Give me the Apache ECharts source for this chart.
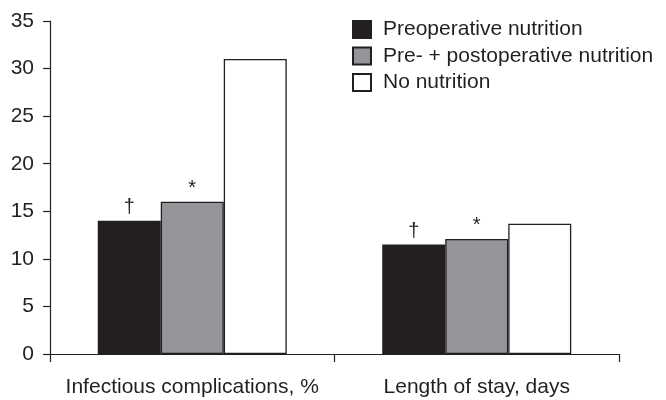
<!DOCTYPE html>
<html><head><meta charset="utf-8">
<script src="https://cdn.jsdelivr.net/npm/echarts@6/dist/echarts.min.js"></script>
<style>html,body{margin:0;padding:0;background:#fff}#c{width:666px;height:400px}</style>
</head><body><div id="c"></div>
<script>
const categories = ['Infectious complications, %', 'Length of stay, days'];
const seriesNames = ['Preoperative nutrition', 'Pre- + postoperative nutrition', 'No nutrition'];
const preop = [14, 11.5];
const prepost = [16, 12.1];
const none = [31, 13.7];
const marks = ['\u2020', '*', ''];
const yTicks = [0, 5, 10, 15, 20, 25, 30, 35];

const ink = '#231f20';
const fills = [ink, '#939598', '#ffffff'];
const values = [preop, prepost, none];
const font = '"Liberation Sans", Arial, sans-serif';

const chart = echarts.init(document.getElementById('c'), null, {renderer: 'canvas'});
chart.setOption({
  animation: false,
  backgroundColor: '#fff',
  grid: {left: 50, right: 47, top: 21, bottom: 46, containLabel: false},
  legend: {
    orient: 'vertical', left: 352, top: 19, padding: 0,
    itemWidth: 18, itemHeight: 17, itemGap: 5.5,
    icon: 'rect',
    textStyle: {fontFamily: font, fontSize: 21, lineHeight: 21, color: ink, padding: [0,0,0,7]},
    data: seriesNames
  },
  xAxis: {
    type: 'category', data: categories,
    axisLine: {lineStyle: {color: ink, width: 1.2}},
    axisTick: {show: true, interval: 0, alignWithLabel: false, length: 8, lineStyle: {color: ink, width: 1.2}},
    axisLabel: {interval: 0, fontFamily: font, fontSize: 21, color: ink, margin: 23}
  },
  yAxis: {
    type: 'value', min: yTicks[0], max: yTicks[yTicks.length-1], interval: 5,
    axisLine: {show: true, lineStyle: {color: ink, width: 1.2}},
    axisTick: {show: true, length: 7, lineStyle: {color: ink, width: 1.2}},
    splitLine: {show: false},
    axisLabel: {fontFamily: font, fontSize: 21, color: ink, margin: 16}
  },
  series: seriesNames.map((name, i) => ({
    name, type: 'bar', barWidth: 63, barGap: '0%',
    itemStyle: {color: fills[i], borderColor: ink, borderWidth: 1.3},
    label: {show: marks[i] !== '', position: 'top', distance: 3, formatter: () => marks[i],
      fontFamily: font, fontSize: 20, color: ink},
    data: values[i]
  }))
});
</script></body></html>
